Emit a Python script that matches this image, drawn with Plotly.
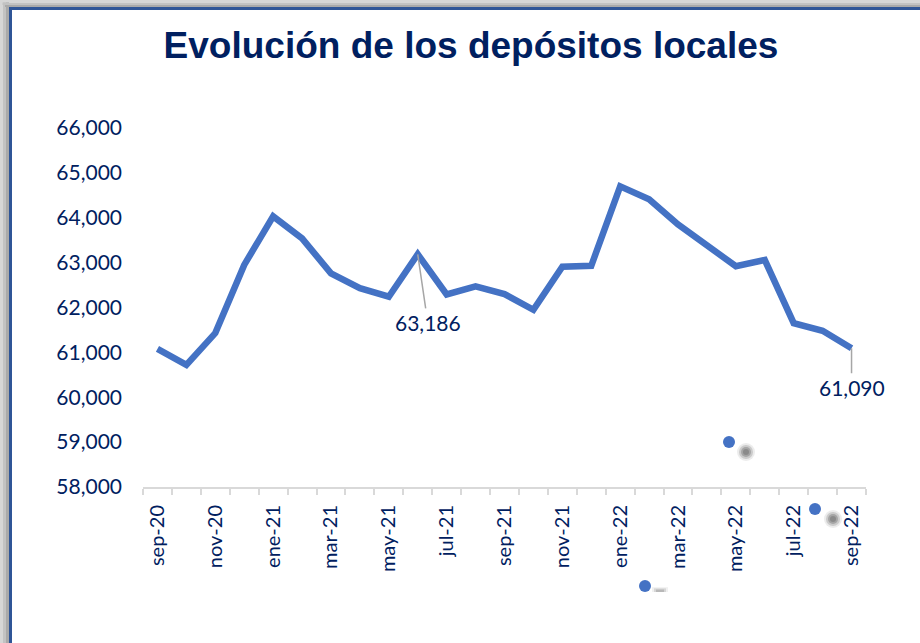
import plotly.graph_objects as go

months = ["sep-20", "oct-20", "nov-20", "dic-20", "ene-21", "feb-21", "mar-21", "abr-21",
          "may-21", "jun-21", "jul-21", "ago-21", "sep-21", "oct-21", "nov-21", "dic-21",
          "ene-22", "feb-22", "mar-22", "abr-22", "may-22", "jun-22", "jul-22", "ago-22", "sep-22"]
deposits = [61080, 60720, 61430, 62950, 64030, 63540, 62760, 62430,
            62240, 63186, 62290, 62470, 62300, 61950, 62910, 62930,
            64700, 64410, 63850, 63380, 62920, 63060, 61650, 61480, 61090]
labelled = {9: (10, 68), 24: (0, 39)}   # index -> label offset (px)

NAVY = "#002060"
BLUE = "#4472C4"
FONT = "Lato"

W, H = 920, 643
L, R, T, B = 143, 866, 128, 487


def px(X):
    return (X - L) / (R - L)


def py(Y):
    return (B - Y) / (B - T)


xs = list(range(len(months)))

fig = go.Figure()
fig.add_trace(go.Scatter(x=xs, y=deposits, mode="lines",
                         line=dict(color=BLUE, width=6.5),
                         hoverinfo="skip", showlegend=False))

annotations = []
for i, (ax, ay) in labelled.items():
    annotations.append(dict(x=xs[i], y=deposits[i], xref="x", yref="y",
                            text=f"{deposits[i]:,}", showarrow=True, arrowhead=0,
                            arrowwidth=1.5, arrowcolor="#A6A6A6", standoff=0,
                            ax=ax, ay=ay, font=dict(family=FONT, size=21, color=NAVY)))

shapes = []
# frame shadow (left and top)
for (a, b, c) in [(0, 3, "#d6d6d6"), (3, 6, "#c2c2c2"), (6, 9, "#a9a9a9")]:
    shapes.append(dict(type="rect", xref="paper", yref="paper", x0=px(a), x1=px(b),
                       y0=py(H + 20), y1=py(0), fillcolor=c, line=dict(width=0), layer="below"))
for (a, b, c) in [(0, 2.5, "#d6d6d6"), (2.5, 5, "#c2c2c2"), (5, 7, "#a9a9a9")]:
    shapes.append(dict(type="rect", xref="paper", yref="paper", x0=px(a), x1=px(W + 20),
                       y0=py(b), y1=py(a), fillcolor=c, line=dict(width=0), layer="below"))
shapes.append(dict(type="rect", xref="paper", yref="paper", x0=px(10.5), x1=px(W + 30),
                   y0=py(H + 30), y1=py(8.5), fillcolor="white",
                   line=dict(color="#2F5597", width=3), layer="below"))

# stray decorative dots
for (bx, by, gx, gy) in [(729, 442, 746, 452), (815, 509, 833, 519)]:
    for r, op in [(9, 0.15), (7, 0.3), (5, 0.5), (3, 0.7)]:
        shapes.append(dict(type="circle", xref="paper", yref="paper",
                           x0=px(gx - r), x1=px(gx + r), y0=py(gy + r), y1=py(gy - r),
                           fillcolor="#7f7f7f", opacity=op, line=dict(width=0)))
    shapes.append(dict(type="circle", xref="paper", yref="paper",
                       x0=px(bx - 6), x1=px(bx + 6), y0=py(by + 6), y1=py(by - 6),
                       fillcolor=BLUE, line=dict(width=0)))
for r, op in [(8, 0.15), (6, 0.3), (4, 0.5)]:
    shapes.append(dict(type="rect", xref="paper", yref="paper",
                       x0=px(660 - r), x1=px(660 + r), y0=py(592), y1=py(592 - r * 0.6),
                       fillcolor="#9a9a9a", opacity=op, line=dict(width=0)))
shapes.append(dict(type="circle", xref="paper", yref="paper",
                   x0=px(645 - 6), x1=px(645 + 6), y0=py(586 + 6), y1=py(586 - 6),
                   fillcolor=BLUE, line=dict(width=0)))

fig.update_layout(
    width=W, height=H,
    margin=dict(l=L, r=W - R, t=T, b=H - B, pad=0),
    paper_bgcolor="white", plot_bgcolor="rgba(0,0,0,0)",
    title=dict(text="<b>Evolución de los depósitos locales</b>",
               font=dict(family="Liberation Sans", size=37, color=NAVY),
               x=471 / W, xanchor="center", xref="container",
               y=1 - 45 / H, yanchor="middle", yref="container"),
    xaxis=dict(range=[-0.5, len(months) - 0.5], tickvals=xs[::2], ticktext=months[::2],
               tickangle=-90, ticks="", showgrid=False, zeroline=False,
               showline=True, linecolor="#d9d9d9", linewidth=2,
               tickfont=dict(family=FONT, size=20, color=NAVY),
               ticklabelstandoff=8,
               minor=dict(tick0=-0.5, dtick=1, ticks="outside", ticklen=6,
                          tickcolor="#d9d9d9", tickwidth=2, showgrid=False)),
    yaxis=dict(range=[58000, 66000], dtick=1000, tickformat=",d", showgrid=False,
               zeroline=False, showline=False, ticks="",
               tickfont=dict(family=FONT, size=21, color=NAVY),
               ticklabelstandoff=20),
    annotations=annotations,
    shapes=shapes,
)

fig.write_html("out.html", config={"displayModeBar": False},
               post_script="document.body.style.margin='0';document.body.style.overflow='hidden';")
